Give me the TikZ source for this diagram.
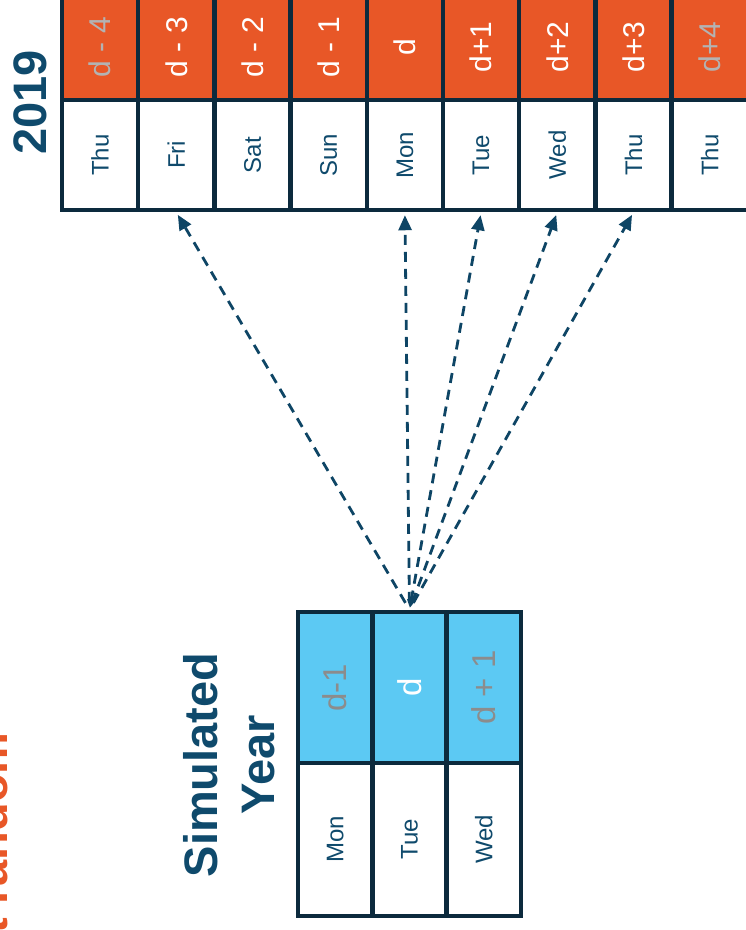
\documentclass[tikz,border=0pt]{standalone}
\usepackage{fontspec}
\setmainfont{Liberation Sans}
\usetikzlibrary{arrows.meta}

\definecolor{cellline}{HTML}{0C2A3D}
\definecolor{dayorange}{HTML}{E85727}
\definecolor{simblue}{HTML}{5CC9F3}
\definecolor{navytext}{HTML}{0F4A6C}
\definecolor{arrowblue}{HTML}{0E4565}
\definecolor{lightgrey}{HTML}{B3B3B3}
\definecolor{midgrey}{HTML}{8C8C8C}

\begin{document}
\begin{tikzpicture}[x=1pt, y=-1pt,
  cell/.style={draw=cellline, line width=4.5pt, rotate=90, inner sep=0pt, align=center},
  offsetcell/.style={cell, fill=dayorange, minimum width=106pt, minimum height=76.2pt, text=white, font=\fontsize{30}{34}\selectfont},
  weekday/.style={cell, fill=white, minimum width=110pt, minimum height=76.2pt, text=navytext, font=\fontsize{24}{28}\selectfont},
  simoffset/.style={cell, fill=simblue, minimum width=151pt, minimum height=74.3pt, text=midgrey, font=\fontsize{33}{37}\selectfont},
  simday/.style={cell, fill=white, minimum width=153pt, minimum height=74.3pt, text=navytext, font=\fontsize{24}{28}\selectfont},
  bigtitle/.style={rotate=90, text=navytext, align=center, font=\bfseries\fontsize{47}{57}\selectfont},
  pick/.style={-{Triangle[length=15pt,width=13pt]}, draw=arrowblue, line width=2.8pt, dash pattern=on 10pt off 7pt, shorten >=3pt, shorten <=8pt}
]
\useasboundingbox (0,0) rectangle (746,930);

% 2019 calendar: offsets (top row) and weekdays
\node[offsetcell, text=lightgrey] (off-m4) at (100.1,47) {d - 4};
\node[offsetcell] (off-m3) at (176.3,47) {d - 3};
\node[offsetcell] (off-m2) at (252.5,47) {d - 2};
\node[offsetcell] (off-m1) at (328.7,47) {d - 1};
\node[offsetcell] (off-0) at (404.9,47) {d};
\node[offsetcell] (off-p1) at (481.1,47) {d+1};
\node[offsetcell] (off-p2) at (557.3,47) {d+2};
\node[offsetcell] (off-p3) at (633.5,47) {d+3};
\node[offsetcell, text=lightgrey] (off-p4) at (709.7,47) {d+4};

\node[weekday] (day-m4) at (100.1,155) {Thu};
\node[weekday] (day-m3) at (176.3,155) {Fri};
\node[weekday] (day-m2) at (252.5,155) {Sat};
\node[weekday] (day-m1) at (328.7,155) {Sun};
\node[weekday] (day-0) at (404.9,155) {Mon};
\node[weekday] (day-p1) at (481.1,155) {Tue};
\node[weekday] (day-p2) at (557.3,155) {Wed};
\node[weekday] (day-p3) at (633.5,155) {Thu};
\node[weekday] (day-p4) at (709.7,155) {Thu};

% Simulated year
\node[simoffset] (sim-m1) at (335.2,687.5) {d-1};
\node[simoffset, text=white] (sim-0) at (409.5,687.5) {d};
\node[simoffset] (sim-p1) at (483.8,687.5) {d + 1};

\node[simday] (simday-m1) at (335.2,839.5) {Mon};
\node[simday] (simday-0) at (409.5,839.5) {Tue};
\node[simday] (simday-p1) at (483.8,839.5) {Wed};

% Titles
\node[bigtitle, font=\bfseries\fontsize{47}{52}\selectfont] (year) at (30.5,102.5) {2019};
\node[bigtitle] (simyear) at (229,765) {Simulated\\Year};
\node[bigtitle, text=dayorange, anchor=base] (random) at (8,846) {at random};

% Draws (rotated cells: .east is the top edge, .west the bottom edge)
\draw[pick] (sim-0.east) -- (day-m3.west);
\draw[pick] (sim-0.east) -- (day-0.west);
\draw[pick, {Triangle[length=8pt,width=8pt]}-{Triangle[length=15pt,width=13pt]}, shorten <=2pt] (sim-0.east) -- (day-p1.west);
\draw[pick] (sim-0.east) -- (day-p2.west);
\draw[pick] (sim-0.east) -- (day-p3.west);

\end{tikzpicture}
\end{document}
